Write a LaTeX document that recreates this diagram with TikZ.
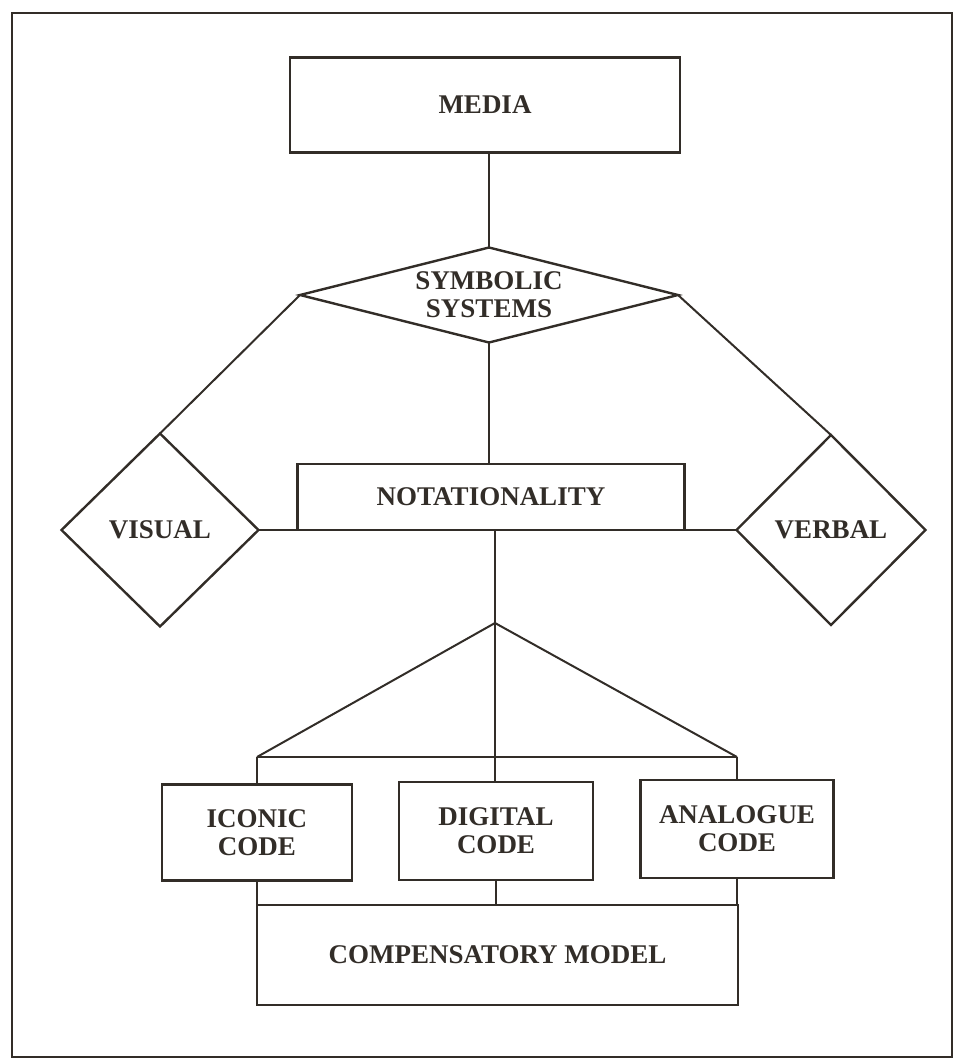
\documentclass[tikz,border=0pt]{standalone}
\usepackage{fontspec}
\setmainfont{Liberation Serif}
\usetikzlibrary{shapes.geometric}
\definecolor{ink}{RGB}{50,45,40}
\begin{document}
\begin{tikzpicture}[x=1pt,y=-1pt,
  every node/.style={font=\fontsize{27}{28}\selectfont\bfseries, text=ink, align=center, inner sep=0pt, outer sep=0pt},
  box/.style={draw=ink, line width=2.8pt, rectangle},
  dia/.style={draw=ink, line width=2.4pt, diamond},
  conn/.style={draw=ink, line width=2pt}]
\useasboundingbox (0,0) rectangle (963,1063);
\draw[ink, line width=2.4pt] (12,13) rectangle (952,1057);
% nodes
\node[box, minimum width=390pt, minimum height=95pt] (media) at (485,105) {MEDIA};
\node[dia, minimum width=378pt, minimum height=95pt, aspect=4] (sym) at (489,295) {SYMBOLIC\\SYSTEMS};
\node[dia, minimum width=197pt, minimum height=193pt] (vis) at (160,530) {VISUAL};
\node[dia, minimum width=189pt, minimum height=190pt] (verb) at (831,530) {VERBAL};
\node[box, minimum width=387pt, minimum height=66pt] (nota) at (491,497) {NOTATIONALITY};
\coordinate (apex) at (495,623);
\coordinate (tl) at (257,757);
\coordinate (tr) at (737,757);
\node[box, minimum width=190pt, minimum height=96pt] (icon) at (257,832.5) {ICONIC\\CODE};
\node[box, minimum width=194pt, minimum height=98pt] (digi) at (496,831) {DIGITAL\\CODE};
\node[box, minimum width=193pt, minimum height=98pt] (anal) at (737,829) {ANALOGUE\\CODE};
\node[box, minimum width=481pt, minimum height=100pt] (comp) at (497.5,955) {COMPENSATORY MODEL};
% connectors
\draw[conn] (sym.north) -- (sym.north |- media.south);
\draw[conn] (sym.south) -- (sym.south |- nota.north);
\draw[conn] (sym.west) -- (vis.north);
\draw[conn] (sym.east) -- (verb.north);
\draw[conn] (vis.east) -- (verb.west);
\draw[conn] (apex |- nota.south) -- (apex |- digi.north);
\draw[conn] (tl) -- (apex) -- (tr);
\draw[conn] (tl) -- (tr);
\draw[conn] (tl) -- (icon.north);
\draw[conn] (tr) -- (anal.north);
\draw[conn] (icon.south) -- (icon.south |- comp.north);
\draw[conn] (digi.south) -- (digi.south |- comp.north);
\draw[conn] (anal.south) -- (anal.south |- comp.north);
\end{tikzpicture}
\end{document}
